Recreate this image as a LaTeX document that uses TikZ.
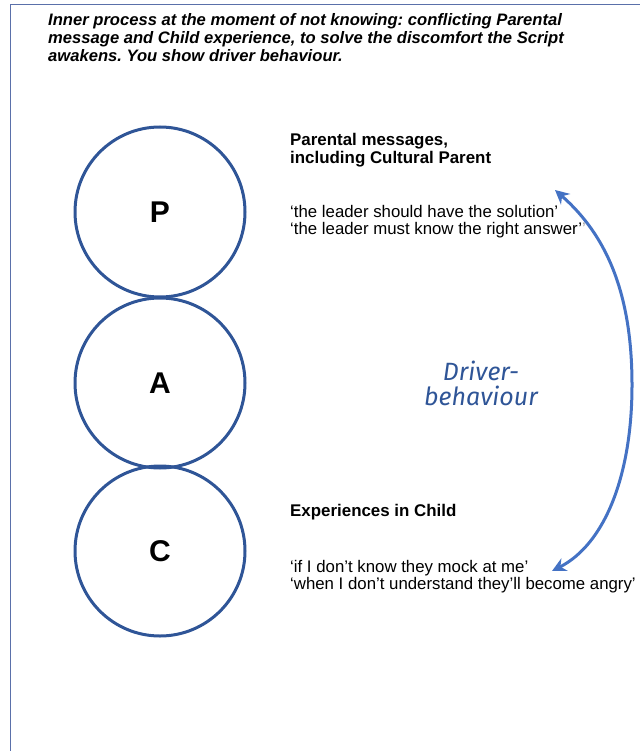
\documentclass[tikz,border=0pt]{standalone}
\usepackage{fontspec}
\setmainfont{Liberation Sans}
\newfontfamily\handfont{Fira Sans}
\usetikzlibrary{arrows.meta}
\frenchspacing
\definecolor{egoblue}{RGB}{47,85,151}
\definecolor{arrowblue}{RGB}{68,114,196}
\definecolor{framecol}{RGB}{90,112,170}
\tikzset{
  egostate/.style={circle, draw=egoblue, line width=3pt, minimum size=170pt, inner sep=0pt,
    font=\fontsize{30}{34}\selectfont\bfseries},
  heading/.style={anchor=north west, inner sep=0pt, align=left,
    font=\fontsize{16.9}{18}\selectfont\bfseries},
  quote/.style={anchor=north west, inner sep=0pt, align=left,
    font=\fontsize{16.8}{17}\selectfont},
  driverarrow/.style={draw=arrowblue, line width=3pt,
    {Stealth[length=14pt,width=14pt]}-{Stealth[length=14pt,width=14pt]}}
}
\begin{document}
\begin{tikzpicture}[x=1pt,y=-1pt]
\useasboundingbox (0,0) rectangle (640,751);
% page frame (open to the right and bottom)
\draw[framecol, line width=1.2pt] (10.5,751) -- (10.5,4.5) -- (640,4.5);

% title
\node[anchor=north west, inner sep=0pt, align=left,
  font=\fontsize{16.6}{18}\selectfont\bfseries\itshape] (title) at (48,13)
  {Inner process at the moment of not knowing: conflicting Parental\\
   message and Child experience, to solve the discomfort the Script\\
   awakens. You show driver behaviour.};

% ego states
\node[egostate] (P) at (160,212) {P};
\node[egostate] (A) at (160,383) {A};
\node[egostate] (C) at (160,551) {C};

% parental messages
\node[heading] (parhead) at (290,133) {Parental messages,\\including Cultural Parent};
\node[quote] (parquote) at (290,205)
  {‘the leader should have the solution’\\
   ‘the leader must know the right answer’{\color{black!35}’}};

% child experiences
\node[heading] (childhead) at (290,504) {Experiences in Child};
\node[quote] (childquote) at (290,560)
  {‘if I don’t know they mock at me’\\
   ‘when I don’t understand they’ll become angry’};

% driver behaviour
\node[align=center, inner sep=0pt, text=egoblue,
  font=\fontsize{25}{25}\selectfont\handfont\itshape] (driver) at (481,383)
  {Driver-\\behaviour};

% double-headed arc between the Parent and Child messages
\coordinate (top) at (555,190);
\coordinate (mid) at (632,385);
\coordinate (bottom) at (552,571);
\draw[driverarrow] (top) .. controls (607.5,236) and (632,295) .. (mid)
  .. controls (632,475) and (605,544) .. (bottom);
\end{tikzpicture}
\end{document}
